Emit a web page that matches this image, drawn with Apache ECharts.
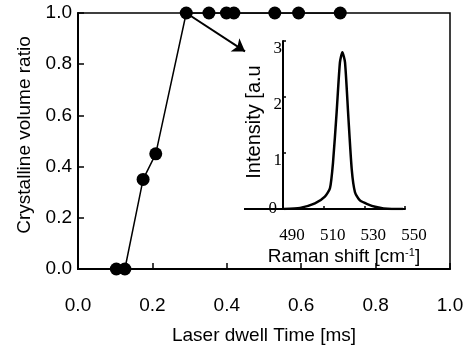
<!DOCTYPE html>
<html>
<head>
<meta charset="utf-8">
<script src="https://cdn.jsdelivr.net/npm/echarts@6/dist/echarts.min.js"></script>
<style>
  html, body { margin: 0; padding: 0; background: #fff; }
  #chart { width: 473px; height: 350px; }
</style>
</head>
<body>
<div id="chart"></div>
<script>
// main plot: crystalline volume ratio vs laser dwell time
const dwellTime = [0.103, 0.126, 0.175, 0.209, 0.291, 0.352, 0.399, 0.419, 0.529, 0.593, 0.705];
const crystalRatio = [0, 0, 0.35, 0.45, 1, 1, 1, 1, 1, 1, 1];

// inset: Raman spectrum
const ramanShift = [490.5, 498.4, 505.7, 510.6, 513.1, 514.6, 516.4, 518.0, 519.2, 520.5, 522.1, 523.8, 525.4, 527.9, 535.3, 543.5, 549];
const ramanIntensity = [0, 0.02, 0.1, 0.22, 0.37, 0.83, 1.74, 2.62, 2.8, 2.62, 1.67, 0.71, 0.3, 0.15, 0.04, 0.0, 0.0];

// arrow from the first fully crystalline point toward the inset
const arrowFrom = [0.291, 1.0];
const arrowTo = [0.449, 0.85];

const SANS = "'Liberation Sans', Arial, sans-serif";
const SERIF = "'Liberation Serif', 'Times New Roman', serif";

const chart = echarts.init(document.getElementById("chart"));

chart.setOption({
  animation: false,
  backgroundColor: "#fff",
  grid: [
    { left: 78, top: 13, right: 23, bottom: 78, show: true, borderColor: "#000", borderWidth: 1.5, backgroundColor: "transparent" },
    { left: 283, top: 41, width: 122, height: 168 },
  ],
  xAxis: [
    {
      gridIndex: 0,
      type: "value",
      min: 0,
      max: 1,
      interval: 0.2,
      name: "Laser dwell Time [ms]",
      nameLocation: "middle",
      nameGap: 57,
      nameTextStyle: { color: "#000", fontSize: 19, fontFamily: SANS },
      axisLine: { lineStyle: { color: "#000", width: 2 } },
      axisTick: { inside: true, length: 6, lineStyle: { color: "#000", width: 1.5 } },
      axisLabel: { color: "#000", fontSize: 19, fontFamily: SANS, margin: 27, formatter: (v) => v.toFixed(1) },
      splitLine: { show: false },
    },
    {
      gridIndex: 1,
      type: "value",
      min: 490,
      max: 550,
      interval: 20,
      name: "Raman shift [cm{sup|-1}]",
      nameLocation: "middle",
      nameGap: 38,
      nameTextStyle: {
        color: "#000",
        fontSize: 19,
        fontFamily: SANS,
        rich: { sup: { fontSize: 11, fontFamily: SANS, color: "#000", verticalAlign: "top", padding: [0, 0, 8, 0] } },
      },
      axisLine: { lineStyle: { color: "#000", width: 2 } },
      axisTick: { inside: true, length: 3, lineStyle: { color: "#000", width: 1.5 } },
      axisLabel: { color: "#000", fontSize: 17, fontFamily: SERIF, margin: 18, padding: [0, 0, 0, 18] },
      splitLine: { show: false },
    },
  ],
  yAxis: [
    {
      gridIndex: 0,
      type: "value",
      min: 0,
      max: 1,
      interval: 0.2,
      name: "Crystalline volume ratio",
      nameLocation: "middle",
      nameGap: 37,
      nameTextStyle: { color: "#000", fontSize: 19, fontFamily: SANS, padding: [0, 0, 0, 12] },
      axisLine: { lineStyle: { color: "#000", width: 2 } },
      axisTick: { inside: true, length: 6, lineStyle: { color: "#000", width: 1.5 } },
      axisLabel: { color: "#000", fontSize: 19, fontFamily: SANS, margin: 6, padding: [10, 0, 0, 0], formatter: (v) => v.toFixed(1) },
      splitLine: { show: false },
    },
    {
      gridIndex: 1,
      type: "value",
      min: 0,
      max: 3,
      interval: 1,
      name: "Intensity [a.u",
      nameLocation: "middle",
      nameGap: 12,
      nameTextStyle: { color: "#000", fontSize: 20, fontFamily: SANS, padding: [0, 0, 0, 6] },
      axisLine: { lineStyle: { color: "#000", width: 2 } },
      axisTick: { inside: true, length: 3, lineStyle: { color: "#000", width: 1.5 } },
      axisLabel: {
        color: "#000",
        margin: 1,
        formatter: (v) => (v === 0 ? "{z|0}" : "{n|" + v + "}"),
        rich: {
          n: { fontSize: 17, fontFamily: SERIF, color: "#000", padding: [15, 0, 0, 0] },
          z: { fontSize: 17, fontFamily: SERIF, color: "#000", padding: [0, 5, 0, 0] },
        },
      },
      splitLine: { show: false },
    },
  ],
  graphic: [
    // stray baseline stub left of the inset axis, as in the original figure
    { type: "line", z: 1, shape: { x1: 244, y1: 209, x2: 283, y2: 209 }, style: { stroke: "#000", lineWidth: 2 } },
  ],
  series: [
    {
      type: "line",
      xAxisIndex: 0,
      yAxisIndex: 0,
      data: dwellTime.map((t, i) => [t, crystalRatio[i]]),
      symbol: "circle",
      symbolSize: 13,
      itemStyle: { color: "#000" },
      lineStyle: { color: "#000", width: 1.5 },
      markLine: {
        silent: true,
        symbol: ["none", "arrow"],
        symbolSize: 12,
        label: { show: false },
        lineStyle: { color: "#000", width: 2, type: "solid" },
        data: [[{ coord: arrowFrom }, { coord: arrowTo }]],
      },
    },
    {
      type: "line",
      xAxisIndex: 1,
      yAxisIndex: 1,
      data: ramanShift.map((x, i) => [x, ramanIntensity[i]]),
      showSymbol: false,
      smooth: 0.2,
      lineStyle: { color: "#000", width: 2.5 },
    },
  ],
});
</script>
</body>
</html>
